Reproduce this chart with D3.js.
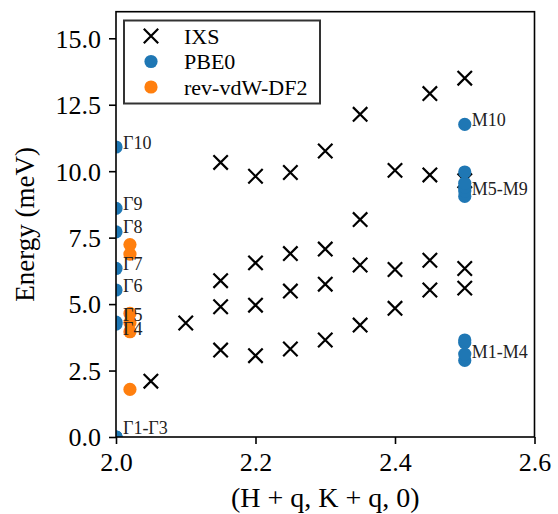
<!DOCTYPE html>
<html>
<head>
<meta charset="utf-8">
<script src="https://cdn.jsdelivr.net/npm/d3@7"></script>
<style>
  body { margin: 0; background: #fff; }
  svg text { font-family: "Liberation Serif", "Times New Roman", serif; fill: #000; }
</style>
</head>
<body>
<svg id="chart" width="558" height="514"></svg>
<script>
// IXS measurements
var ixsQ = [2.05, 2.10,
  2.15, 2.15, 2.15, 2.15,
  2.20, 2.20, 2.20, 2.20,
  2.25, 2.25, 2.25, 2.25,
  2.30, 2.30, 2.30, 2.30,
  2.35, 2.35, 2.35, 2.35,
  2.40, 2.40, 2.40,
  2.45, 2.45, 2.45, 2.45,
  2.50, 2.50, 2.50, 2.50];
var ixsE = [2.1, 4.29,
  3.27, 4.90, 5.88, 10.33,
  3.06, 4.96, 6.55, 9.81,
  3.31, 5.49, 6.90, 9.95,
  3.65, 5.75, 7.07, 10.76,
  4.21, 6.47, 8.18, 12.14,
  4.84, 6.30, 10.03,
  5.53, 6.65, 9.86, 12.92,
  5.60, 6.34, 9.64, 13.50];

// PBE0 at Gamma (2.0) and M (2.5)
var pbeQ = [2.0, 2.0, 2.0, 2.0, 2.0, 2.0, 2.0, 2.0, 2.0, 2.0,
  2.5, 2.5, 2.5, 2.5, 2.5, 2.5, 2.5, 2.5, 2.5, 2.5];
var pbeE = [0, 0, 0, 4.25, 4.32, 5.53, 6.34, 7.72, 8.60, 10.91,
  2.88, 3.12, 3.55, 3.65, 9.05, 9.25, 9.40, 9.55, 9.97, 11.76];

// rev-vdW-DF2
var vdwQ = [2.02, 2.02, 2.02, 2.02, 2.02, 2.02];
var vdwE = [1.79, 3.96, 4.30, 4.65, 6.88, 7.24];

// mode labels
var labelQ = [2.01, 2.01, 2.01, 2.01, 2.01, 2.01, 2.01, 2.01, 2.51, 2.51, 2.51];
var labelE = [10.85, 8.53, 7.66, 6.28, 5.46, 4.36, 3.83, 0.10, 11.70, 9.10, 2.96];
var labelText = ["Γ10", "Γ9", "Γ8", "Γ7", "Γ6", "Γ5", "Γ4", "Γ1-Γ3", "M10", "M5-M9", "M1-M4"];

var xTicks = [2.0, 2.2, 2.4, 2.6];
var yTicks = [0, 2.5, 5, 7.5, 10, 12.5, 15];

var legendNames = ["IXS", "PBE0", "rev-vdW-DF2"];

var svg = d3.select("#chart");
var pLeft = 116, pRight = 534.5, pTop = 11.7, pBottom = 437;

var x = d3.scaleLinear().domain([2.0, 2.6]).range([pLeft, pRight]);
var y = d3.scaleLinear().domain([0, 16]).range([pBottom, pTop]);

svg.append("clipPath").attr("id", "plotClip")
  .append("rect")
    .attr("x", pLeft).attr("y", pTop)
    .attr("width", pRight - pLeft).attr("height", pBottom - pTop);

var plot = svg.append("g").attr("clip-path", "url(#plotClip)");

function crossPath(cx, cy, s) {
  return "M" + (cx - s) + "," + (cy - s) + "L" + (cx + s) + "," + (cy + s) +
         "M" + (cx - s) + "," + (cy + s) + "L" + (cx + s) + "," + (cy - s);
}

// crosses for IXS
var xs = 7.2;
ixsQ.forEach(function(q, i) {
  plot.append("path")
    .attr("d", crossPath(x(q), y(ixsE[i]), xs))
    .style("stroke", "#000")
    .style("stroke-width", 2.2)
    .style("fill", "none");
});

pbeQ.forEach(function(q, i) {
  plot.append("circle")
    .attr("cx", x(q)).attr("cy", y(pbeE[i])).attr("r", 6.6)
    .style("fill", "#1f77b4");
});

vdwQ.forEach(function(q, i) {
  plot.append("circle")
    .attr("cx", x(q)).attr("cy", y(vdwE[i])).attr("r", 6.6)
    .style("fill", "#ff7f0e");
});

labelText.forEach(function(t, i) {
  svg.append("text")
    .attr("x", x(labelQ[i])).attr("y", y(labelE[i]))
    .style("font-size", "18px")
    .style("fill", "#222")
    .text(t);
});

// axes
var xAxis = d3.axisBottom(x).tickValues(xTicks).tickFormat(d3.format(".1f")).tickSize(7).tickPadding(6);
var yAxis = d3.axisLeft(y).tickValues(yTicks).tickFormat(d3.format(".1f")).tickSize(7).tickPadding(8);

var gx = svg.append("g").attr("transform", "translate(0," + pBottom + ")").call(xAxis);
var gy = svg.append("g").attr("transform", "translate(" + pLeft + ",0)").call(yAxis);
[gx, gy].forEach(function(g) {
  g.select(".domain").remove();
  g.selectAll(".tick line").style("stroke", "#000").style("stroke-width", 1.6);
  g.selectAll(".tick text").style("font-size", "26px")
    .style("font-family", "Liberation Serif, serif").attr("fill", "#000");
});
gx.selectAll(".tick text").attr("dy", "0.8em");
gy.selectAll(".tick text").attr("dy", "0.34em");

svg.append("rect")
  .attr("x", pLeft).attr("y", pTop)
  .attr("width", pRight - pLeft).attr("height", pBottom - pTop)
  .style("fill", "none").style("stroke", "#000").style("stroke-width", 1.6);

svg.append("text")
  .attr("x", (pLeft + pRight) / 2).attr("y", 507)
  .attr("text-anchor", "middle")
  .style("font-size", "28px")
  .text("(H + q, K + q, 0)");

svg.append("text")
  .attr("transform", "translate(34," + ((pTop + pBottom) / 2) + ") rotate(-90)")
  .attr("text-anchor", "middle")
  .style("font-size", "27px")
  .text("Energy (meV)");

// legend
var legend = svg.append("g");
legend.append("rect")
  .attr("x", 124).attr("y", 20.5).attr("width", 196).attr("height", 83)
  .style("fill", "#fff").style("stroke", "#333").style("stroke-width", 2);
var rowY = [36, 61.5, 87];
legendNames.forEach(function(name, i) {
  var cy = rowY[i], cx = 151;
  if (i == 0) {
    legend.append("path")
      .attr("d", crossPath(cx, cy, xs))
      .style("stroke", "#000").style("stroke-width", 2.2);
  } else {
    legend.append("circle").attr("cx", cx).attr("cy", cy).attr("r", 6.6)
      .style("fill", i == 1 ? "#1f77b4" : "#ff7f0e");
  }
  legend.append("text")
    .attr("x", 184).attr("y", cy).attr("dy", "0.35em")
    .style("font-size", "22px")
    .text(name);
});
</script>
</body>
</html>
